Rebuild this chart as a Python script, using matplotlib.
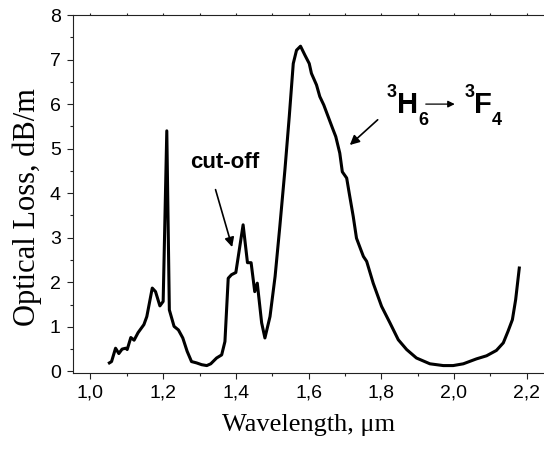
import matplotlib
matplotlib.use('Agg')
import matplotlib.pyplot as plt
from matplotlib.ticker import MultipleLocator, FuncFormatter

wavelength = [1.052, 1.058, 1.069, 1.078, 1.087, 1.097, 1.101, 1.111, 1.120, 1.131,
              1.147, 1.155, 1.170, 1.179, 1.191, 1.200, 1.210, 1.217, 1.230, 1.242,
              1.254, 1.266, 1.278, 1.292, 1.306, 1.320, 1.331, 1.347, 1.361, 1.370,
              1.379, 1.388, 1.400, 1.420, 1.432, 1.442, 1.452, 1.459, 1.471, 1.480,
              1.494, 1.508, 1.521, 1.535, 1.547, 1.558, 1.567, 1.578, 1.590, 1.602,
              1.608, 1.622, 1.631, 1.642, 1.654, 1.666, 1.675, 1.686, 1.693, 1.705,
              1.712, 1.723, 1.732, 1.744, 1.751, 1.760, 1.778, 1.801, 1.824, 1.847,
              1.870, 1.897, 1.934, 1.971, 1.998, 2.026, 2.062, 2.090, 2.117, 2.136,
              2.149, 2.161, 2.170, 2.180]
loss = [0.19, 0.22, 0.52, 0.40, 0.50, 0.52, 0.49, 0.76, 0.70, 0.87,
        1.05, 1.23, 1.87, 1.79, 1.47, 1.57, 5.40, 1.38, 1.01, 0.93,
        0.75, 0.45, 0.22, 0.19, 0.15, 0.13, 0.17, 0.30, 0.37, 0.67,
        2.09, 2.17, 2.22, 3.29, 2.44, 2.44, 1.79, 1.98, 1.09, 0.75,
        1.23, 2.13, 3.25, 4.52, 5.72, 6.91, 7.21, 7.30, 7.10, 6.91,
        6.69, 6.43, 6.17, 5.98, 5.72, 5.46, 5.27, 4.90, 4.48, 4.34,
        4.00, 3.48, 2.99, 2.73, 2.58, 2.47, 1.98, 1.46, 1.09, 0.71,
        0.49, 0.30, 0.17, 0.13, 0.13, 0.17, 0.28, 0.35, 0.47, 0.64,
        0.90, 1.16, 1.61, 2.32]

sans = 'Liberation Sans'
serif = 'Liberation Serif'

fig = plt.figure(figsize=(5.44, 4.51), dpi=100)
# right spine sits just past the figure edge, as in the original
ax = fig.add_axes([0.1336, 0.1736, 0.868, 0.7931])

ax.plot(wavelength, loss, color='black', linewidth=2.2)

ax.set_xlim(0.951, 2.2504)
ax.set_ylim(-0.03, 8)

ax.xaxis.set_major_locator(MultipleLocator(0.2))
ax.xaxis.set_minor_locator(MultipleLocator(0.1))
ax.yaxis.set_major_locator(MultipleLocator(1))
ax.yaxis.set_minor_locator(MultipleLocator(0.5))
ax.xaxis.set_major_formatter(FuncFormatter(lambda v, p: f'{v:.1f}'.replace('.', ',')))
ax.yaxis.set_major_formatter(FuncFormatter(lambda v, p: f'{v:.0f}'))

ax.tick_params(which='both', direction='out', top=True, color='#222222', width=0.8)
ax.tick_params(which='major', length=4.5, labelsize=14, pad=4)
ax.tick_params(which='minor', length=2.5)
# top ticks are only tiny stubs
for t in ax.xaxis.get_major_ticks() + ax.xaxis.get_minor_ticks():
    t.tick2line.set_markersize(1.5)
for lab in ax.get_xticklabels() + ax.get_yticklabels():
    lab.set_fontfamily(sans)

for s in ax.spines.values():
    s.set_linewidth(0.8)
    s.set_color('#222222')

ax.set_xlabel('Wavelength, μm', fontfamily=serif, fontsize=19, labelpad=9)
ax.set_ylabel('Optical Loss, dB/m', fontfamily=serif, fontsize=22)
ax.yaxis.set_label_coords(-0.066, 0.463)

# annotations
ax.text(1.370, 4.68, 'cut-off', fontfamily=sans, fontweight='bold', fontsize=16,
        ha='center', va='center')
ax.annotate('', xy=(1.392, 2.73), xytext=(1.342, 4.14),
            arrowprops=dict(arrowstyle='-|>', color='black', lw=1.2, mutation_scale=14))

ax.annotate('', xy=(1.708, 5.04), xytext=(1.796, 5.69),
            arrowprops=dict(arrowstyle='-|>', color='black', lw=1.2, mutation_scale=14))

big = dict(fontfamily=sans, fontweight='bold', fontsize=21, ha='left', va='baseline')
small = dict(fontfamily=sans, fontweight='bold', fontsize=13, ha='left', va='baseline')
ax.text(1.816, 6.16, '3', **small)
ax.text(1.843, 5.80, 'H', **big)
ax.text(1.901, 5.53, '6', **small)
ax.annotate('', xy=(2.010, 6.00), xytext=(1.915, 6.00),
            arrowprops=dict(arrowstyle='-|>', color='black', lw=0.9, mutation_scale=10))
ax.text(2.030, 6.16, '3', **small)
ax.text(2.055, 5.80, 'F', **big)
ax.text(2.105, 5.53, '4', **small)

fig.savefig('out.png', dpi=100)
